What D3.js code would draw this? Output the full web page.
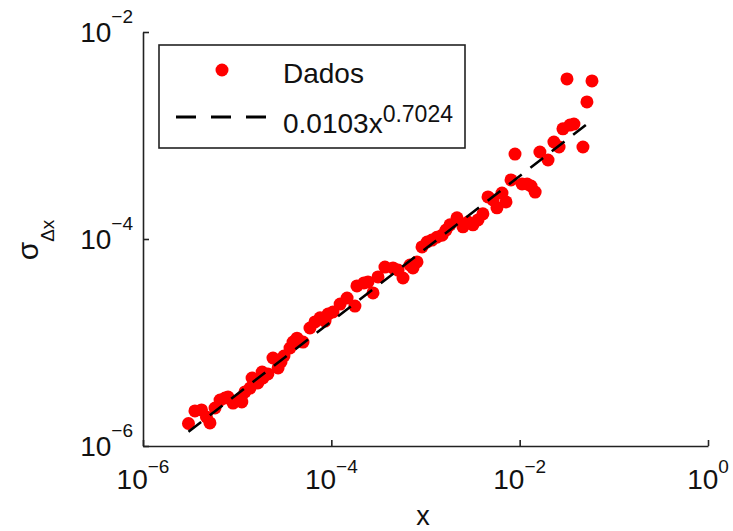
<!DOCTYPE html>
<html>
<head>
<meta charset="utf-8">
<script src="https://cdn.jsdelivr.net/npm/d3@7"></script>
<style>
  html, body { margin: 0; padding: 0; background: #fff; }
  svg { display: block; }
  text { font-family: "Liberation Sans", Arial, sans-serif; fill: #111; }
</style>
</head>
<body>
<svg id="chart" width="733" height="531"></svg>
<script>
// ---- data ----
const xData = [3.04e-6, 3.56e-6, 4.18e-6, 4.72e-6, 5.14e-6, 5.82e-6, 6.58e-6, 7.43e-6, 8.0e-6, 9.04e-6,
  1.10e-5, 1.12e-5, 1.21e-5, 1.37e-5, 1.44e-5, 1.66e-5, 1.84e-5, 1.88e-5, 2.12e-5, 2.40e-5,
  2.72e-5, 2.92e-5, 3.14e-5, 3.64e-5, 3.92e-5, 4.32e-5, 5.00e-5, 5.93e-5, 6.70e-5, 7.59e-5,
  8.57e-5, 9.23e-5, 1.04e-4, 1.24e-4, 1.47e-4, 1.78e-4, 1.87e-4, 2.22e-4, 2.45e-4, 2.77e-4,
  3.13e-4, 3.71e-4, 4.52e-4, 5.11e-4, 5.77e-4, 6.84e-4, 7.36e-4, 8.12e-4, 9.18e-4, 1.04e-3,
  1.17e-3, 1.32e-3, 1.50e-3, 1.65e-3, 1.82e-3, 2.16e-3, 2.50e-3, 2.83e-3, 3.19e-3, 3.61e-3,
  4.07e-3, 4.61e-3, 5.21e-3, 5.74e-3, 6.49e-3, 7.16e-3, 8.09e-3, 8.92e-3, 1.06e-2, 1.20e-2,
  1.32e-2, 1.46e-2, 1.64e-2, 2.00e-2, 2.31e-2, 2.62e-2, 2.88e-2, 3.18e-2, 3.42e-2, 3.77e-2,
  4.70e-2, 5.18e-2, 5.86e-2];
const yData = [1.65e-6, 2.18e-6, 2.23e-6, 1.91e-6, 1.67e-6, 2.33e-6, 2.78e-6, 2.91e-6, 2.97e-6, 2.60e-6,
  2.91e-6, 2.66e-6, 3.33e-6, 3.63e-6, 4.54e-6, 4.06e-6, 5.19e-6, 4.54e-6, 4.97e-6, 7.08e-6,
  5.68e-6, 6.49e-6, 7.41e-6, 8.85e-6, 1.01e-5, 1.10e-5, 1.01e-5, 1.38e-5, 1.58e-5, 1.73e-5,
  1.61e-5, 1.88e-5, 1.97e-5, 2.35e-5, 2.69e-5, 2.25e-5, 3.52e-5, 3.76e-5, 3.85e-5, 3.01e-5,
  4.30e-5, 5.36e-5, 5.25e-5, 5.01e-5, 4.20e-5, 5.61e-5, 5.25e-5, 6.00e-5, 8.38e-5, 9.35e-5,
  9.77e-5, 1.04e-4, 1.09e-4, 1.22e-4, 1.37e-4, 1.60e-4, 1.31e-4, 1.46e-4, 1.37e-4, 1.53e-4,
  1.75e-4, 2.55e-4, 2.38e-4, 2.00e-4, 2.78e-4, 2.28e-4, 3.72e-4, 6.62e-4, 3.40e-4, 3.40e-4,
  3.25e-4, 2.84e-4, 6.93e-4, 5.80e-4, 8.65e-4, 7.74e-4, 1.16e-3, 3.52e-3, 1.26e-3, 1.29e-3,
  7.74e-4, 2.11e-3, 3.37e-3];
const fitA = 0.0103;
const fitB = 0.7024;
const xTicks = [1e-6, 1e-4, 1e-2, 1];
const xTickExp = ["\u22126", "\u22124", "\u22122", "0"];
const yTicks = [1e-6, 1e-4, 1e-2];
const yTickExp = ["\u22126", "\u22124", "\u22122"];
const legendLabels = ["Dados", "0.0103x", "0.7024"];

// ---- layout ----
const svg = d3.select("#chart");
const mLeft = 143, mRight = 708, mTop = 32, mBottom = 446;

const x = d3.scaleLog().domain([1e-6, 1]).range([mLeft, mRight]);
const y = d3.scaleLog().domain([1e-6, 1e-2]).range([mBottom, mTop]);

// axes
const xAxis = d3.axisBottom(x).tickValues(xTicks).tickSizeInner(-6).tickSizeOuter(0).tickFormat("");
const yAxis = d3.axisLeft(y).tickValues(yTicks).tickSizeInner(-6).tickSizeOuter(0).tickFormat("");

const gx = svg.append("g").attr("transform", `translate(0,${mBottom})`).call(xAxis);
const gy = svg.append("g").attr("transform", `translate(${mLeft},0)`).call(yAxis);
[gx, gy].forEach(g => {
  g.select(".domain").attr("stroke", "#222").attr("stroke-width", 1.6);
  g.selectAll(".tick line").attr("stroke", "#222").attr("stroke-width", 1.6);
});

// tick labels
xTicks.forEach((v, i) => {
  const t = svg.append("text").attr("x", x(v)).attr("y", mBottom + 43)
    .attr("text-anchor", "middle").attr("font-size", 28);
  t.append("tspan").text("10");
  t.append("tspan").attr("dy", -16).attr("font-size", 19).text(xTickExp[i]);
});
yTicks.forEach((v, i) => {
  const t = svg.append("text").attr("x", mLeft - 10).attr("y", y(v) + 10)
    .attr("text-anchor", "end").attr("font-size", 28);
  t.append("tspan").text("10");
  t.append("tspan").attr("dy", -19).attr("font-size", 19).text(yTickExp[i]);
});

// axis titles
svg.append("text").attr("x", 423).attr("y", 525).attr("text-anchor", "middle")
  .attr("font-size", 27).text("x");
const yl = svg.append("text").attr("transform", "translate(38,240) rotate(-90)")
  .attr("text-anchor", "middle").attr("font-size", 30);
yl.append("tspan").text("\u03c3");
yl.append("tspan").attr("dy", 16).attr("font-size", 19).text("\u0394x");

// data points
const pts = d3.range(xData.length).map(i => [xData[i], yData[i]]);
svg.append("g").selectAll("circle").data(pts).join("circle")
  .attr("cx", d => x(d[0])).attr("cy", d => y(d[1])).attr("r", 6.5)
  .attr("fill", "#ff0000");

// fit line (power law: straight on log-log axes)
const xExt = d3.extent(xData);
const fitPts = xExt.map(v => [v, fitA * Math.pow(v, fitB)]);
svg.append("path").datum(fitPts)
  .attr("d", d3.line().x(d => x(d[0])).y(d => y(d[1])))
  .attr("fill", "none").attr("stroke", "#000").attr("stroke-width", 2.6)
  .attr("stroke-dasharray", "16,11");

// legend
const lg = svg.append("g");
lg.append("rect").attr("x", 159).attr("y", 45).attr("width", 306).attr("height", 103)
  .attr("fill", "#fff").attr("stroke", "#222").attr("stroke-width", 1.6);
lg.append("circle").attr("cx", 222).attr("cy", 70).attr("r", 6.5).attr("fill", "#ff0000");
lg.append("line").attr("x1", 176).attr("x2", 268).attr("y1", 117).attr("y2", 117)
  .attr("stroke", "#000").attr("stroke-width", 3).attr("stroke-dasharray", "20,15");
lg.append("text").attr("x", 283).attr("y", 83).attr("font-size", 28).text(legendLabels[0]);
const lt = lg.append("text").attr("x", 283).attr("y", 133).attr("font-size", 28);
lt.append("tspan").text(legendLabels[1]);
lt.append("tspan").attr("dy", -11).attr("font-size", 23).text(legendLabels[2]);
</script>
</body>
</html>
